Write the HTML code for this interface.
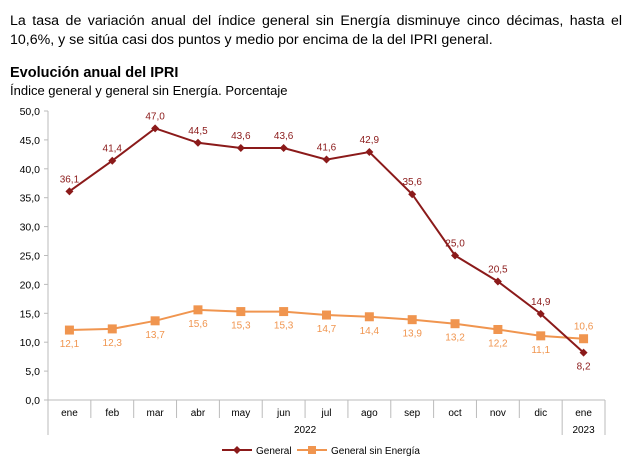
<!DOCTYPE html>
<html><head><meta charset="utf-8"><style>
body{margin:0;width:629px;height:463px;background:#fff;font-family:"Liberation Sans",sans-serif;overflow:hidden}
.p{position:absolute;left:10px;font-size:14.2px;color:#000;line-height:19px}
</style></head><body>
<div class="p" style="top:12px;width:612px;text-align:justify;text-align-last:left">La tasa de variación anual del índice general sin Energía disminuye cinco décimas, hasta el 10,6%, y se sitúa casi dos puntos y medio por encima de la del IPRI general.</div>
<div class="p" style="top:64px;font-weight:bold;font-size:14.5px">Evolución anual del IPRI</div>
<div class="p" style="top:81px;font-size:13px">Índice general y general sin Energía. Porcentaje</div>
<svg width="629" height="463" style="position:absolute;left:0;top:0">
<g id="g"></g>
</svg>
<script>
const categories=["ene","feb","mar","abr","may","jun","jul","ago","sep","oct","nov","dic","ene"];
const general=[36.1,41.4,47.0,44.5,43.6,43.6,41.6,42.9,35.6,25.0,20.5,14.9,8.2];
const sinEnergia=[12.1,12.3,13.7,15.6,15.3,15.3,14.7,14.4,13.9,13.2,12.2,11.1,10.6];
const yTicks=[0,5,10,15,20,25,30,35,40,45,50];
const x0=48,x1=605,yb=400,yt=111;
const cw=(x1-x0)/categories.length;
const X=i=>x0+cw*(i+0.5);
const Y=v=>yb-(v/50)*(yb-yt);
const g=document.getElementById('g');
const NS="http://www.w3.org/2000/svg";
function mk(t,a,txt){const e=document.createElementNS(NS,t);for(const k in a)e.setAttribute(k,a[k]);if(txt!=null)e.textContent=txt;g.appendChild(e);return e;}
const fmt=v=>v.toFixed(1).replace('.',',');
mk('line',{x1:x0,y1:yt,x2:x0,y2:435,stroke:'#bbb'});
mk('line',{x1:x0,y1:yb,x2:x1,y2:yb,stroke:'#bbb'});
yTicks.forEach(v=>{mk('line',{x1:x0-4,y1:Y(v),x2:x0,y2:Y(v),stroke:'#bbb'});
const t=mk('text',{x:40,y:Y(v)+4,'text-anchor':'end','font-size':10.5,fill:'#000'},fmt(v));
});
categories.forEach((c,i)=>{const xe=x0+cw*(i+1);
mk('line',{x1:xe,y1:yb,x2:xe,y2:(i>=11?435:418),stroke:'#bbb'});
const t=mk('text',{x:X(i),y:416,'text-anchor':'middle','font-size':10,fill:'#000'},c);
});
let t=mk('text',{x:X(5.5),y:433,'text-anchor':'middle','font-size':10},'2022');
t=mk('text',{x:X(12),y:433,'text-anchor':'middle','font-size':10},'2023');
function series(vals,col,name,marker,above){
const l=mk('polyline',{points:vals.map((v,i)=>X(i)+','+Y(v)).join(' '),fill:'none',stroke:col,'stroke-width':2});

vals.forEach((v,i)=>{let m;
if(marker=='d')m=mk('polygon',{points:`${X(i)},${Y(v)-4} ${X(i)+4},${Y(v)} ${X(i)},${Y(v)+4} ${X(i)-4},${Y(v)}`,fill:col});
else m=mk('rect',{x:X(i)-4.5,y:Y(v)-4.5,width:9,height:9,fill:col});

const up=above(i);
const lb=mk('text',{x:X(i),y:up?Y(v)-9:Y(v)+17,'text-anchor':'middle','font-size':10,fill:col},fmt(v));
});}
series(sinEnergia,'#f0954f','sin-energia','s',i=>i==12);
series(general,'#8b1a1a','general','d',i=>i!=12);
// legend
mk('line',{x1:222,y1:450,x2:252,y2:450,stroke:'#8b1a1a','stroke-width':2});
mk('polygon',{points:'237,446 241,450 237,454 233,450',fill:'#8b1a1a'});
t=mk('text',{x:256,y:454,'font-size':10},'General');
mk('line',{x1:297,y1:450,x2:327,y2:450,stroke:'#f0954f','stroke-width':2});
mk('rect',{x:308,y:446,width:8,height:8,fill:'#f0954f'});
t=mk('text',{x:331,y:454,'font-size':10},'General sin Energía');
</script>
</body></html>
